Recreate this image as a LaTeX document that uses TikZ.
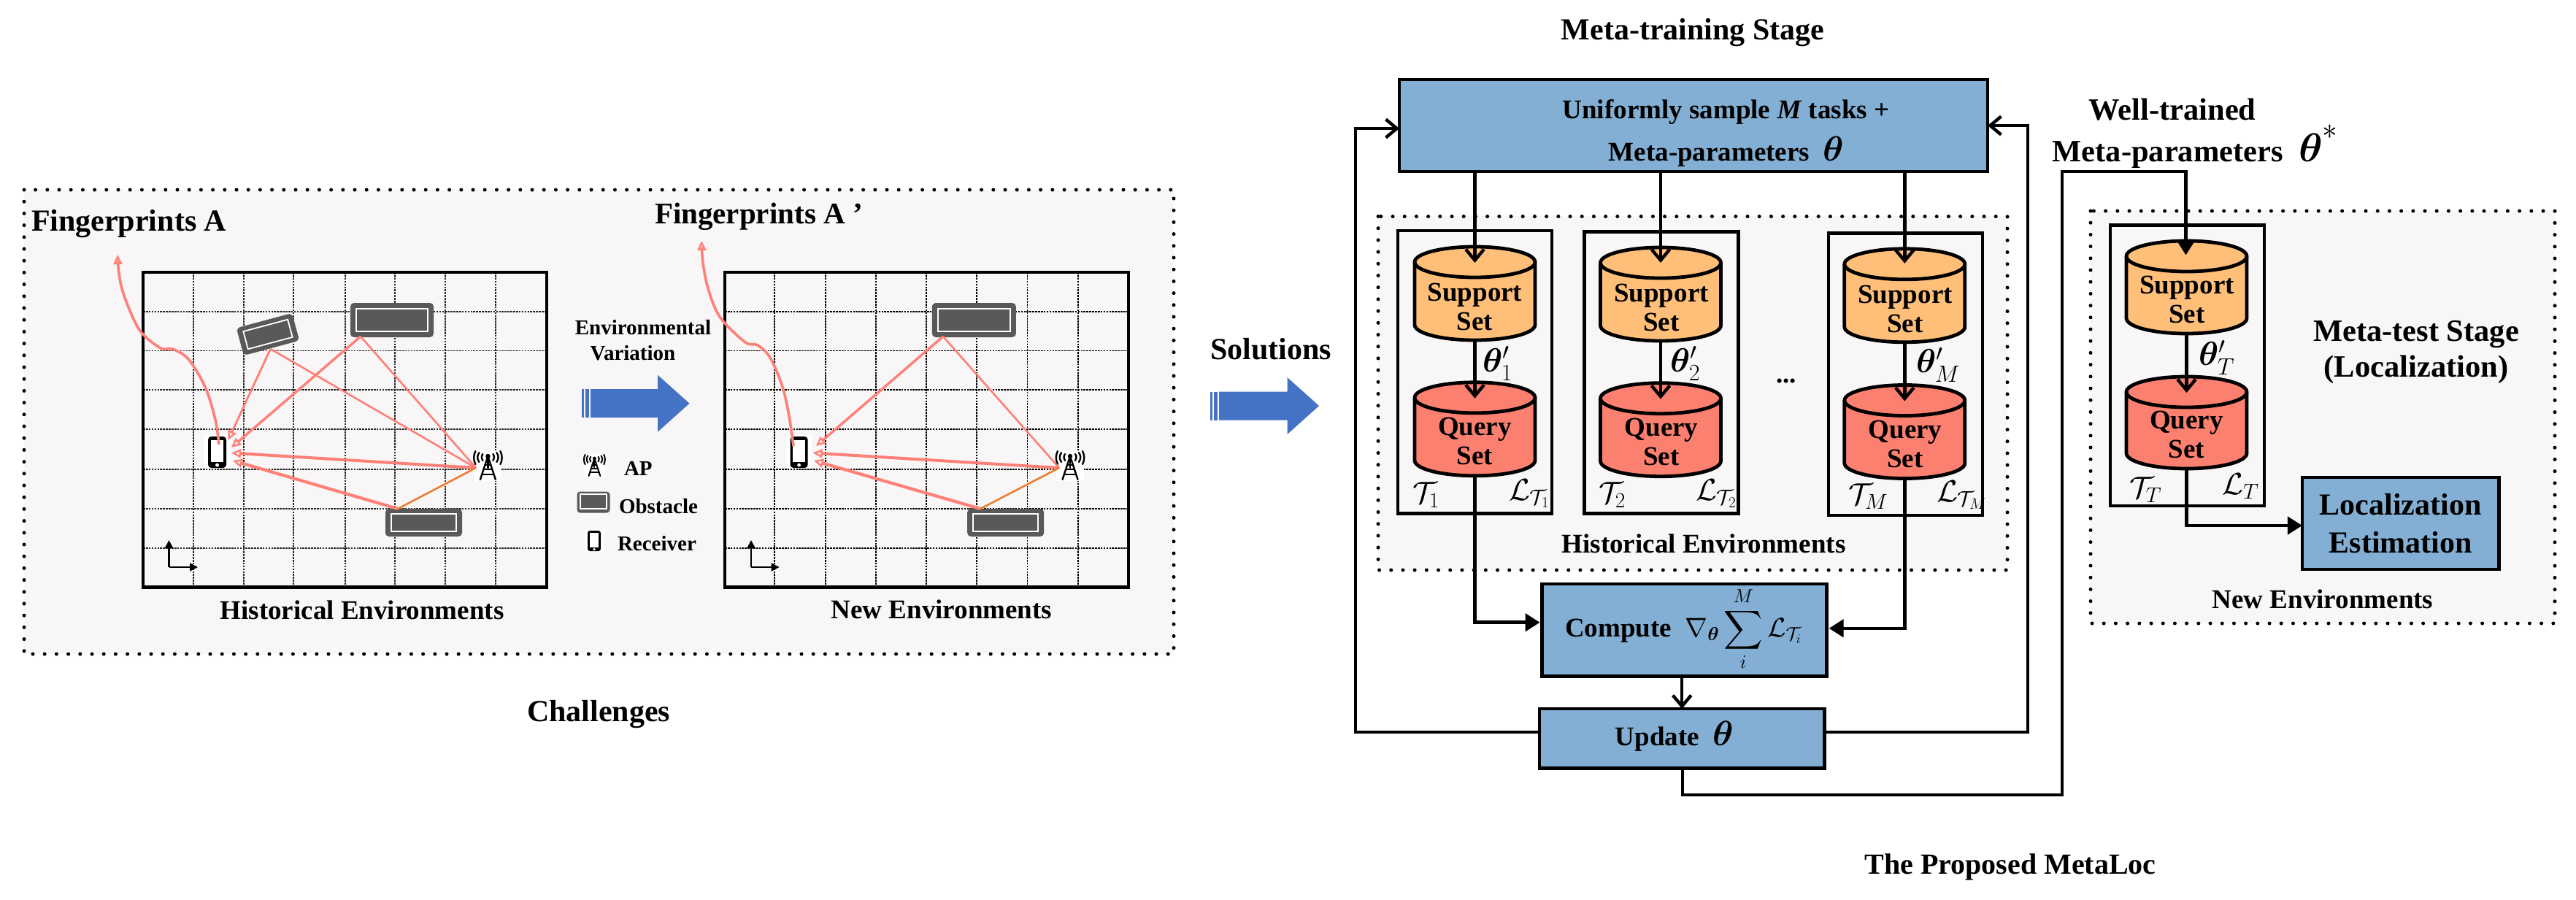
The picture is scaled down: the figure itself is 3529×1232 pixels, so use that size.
\documentclass[tikz,border=0pt]{standalone}
\usepackage{fix-cm}
\usepackage{amsmath,bm,graphicx}
\usepackage[no-math]{fontspec}
\setmainfont{Liberation Serif}
\DeclareFontFamily{OMX}{cmex}{}
\DeclareFontShape{OMX}{cmex}{m}{n}{<-> cmex10}{}
\usetikzlibrary{arrows.meta,calc}
\definecolor{panelbg}{HTML}{F8F6F7}
\definecolor{boxblue}{HTML}{82AFD3}
\definecolor{supcol}{HTML}{FFBF79}
\definecolor{qrycol}{HTML}{FC8070}
\definecolor{salmon}{HTML}{FF8077}
\definecolor{orangeline}{HTML}{ED7D31}
\definecolor{obdark}{HTML}{595959}
\definecolor{bigarrow}{HTML}{4472C4}
\newcommand{\bigth}{\scalebox{1.3}{$\bm{\theta}$}}
\tikzset{
  lbl/.style={inner sep=0pt,outer sep=0pt,align=center,font=\bfseries\fontsize{#1}{40}\selectfont},
  mth/.style={inner sep=0pt,outer sep=0pt,font=\fontsize{#1}{40}\selectfont},
  panel/.style={fill=panelbg,draw=none,inner sep=0pt,outer sep=0pt},
  dotline/.style={draw=black,line width=5pt,line cap=round,dash pattern=on 0pt off 16.2pt},
  pbox/.style={draw=black,line width=4.6pt,inner sep=0pt,outer sep=0pt,line join=miter},
  bluebox/.style={pbox,fill=boxblue,align=center,font=\bfseries\fontsize{37}{44}\selectfont},
  cylbase/.style={inner sep=0pt,outer sep=0pt,minimum width=165pt},
  cylline/.style={draw=black,line width=4.8pt,line join=round},
  flow/.style={draw=black,line width=4.4pt,-{Straight Barb[length=15pt,width=25pt,line width=4.4pt]}},
  flowfill/.style={draw=black,line width=4.6pt,-{Triangle[length=20pt,width=24pt]}},
  ray/.style={draw=salmon,line width=#1},
  rayin/.style={draw=salmon,line width=#1,-{Triangle[open,length=13pt,width=12pt,line width=2.4pt]}},
  gridleft/.style={draw=black!85,line width=1.2pt,dash pattern=on 2.6pt off 1.3pt},
  gridright/.style={draw=black,line width=1.7pt,dash pattern=on 2.6pt off 1.3pt},
  envframe/.style={draw=black,line width=4.5pt,inner sep=0pt,outer sep=0pt},
  obout/.style={draw=obdark,fill=obdark,line width=5pt,rounded corners=3pt,inner sep=0pt,outer sep=0pt},
  obin/.style={draw=white,fill=obdark,line width=1.8pt,inner sep=0pt,outer sep=0pt},
  axisarrow/.style={draw=black,line width=2.2pt,-{Triangle[length=11pt,width=11pt]}},
}
% cylinder: name, centre x, centre y, height, fill
\newcommand{\dbcyl}[5]{%
  \node[cylbase,minimum height=#4 pt] (#1) at (#2,#3) {};
  \path[fill=#5,cylline]
    (#2-82.5,#3-#4/2+21) .. controls (#2-82.5,#3-#4/2+9.4) and (#2-45.6,#3-#4/2) .. (#2,#3-#4/2)
    .. controls (#2+45.6,#3-#4/2) and (#2+82.5,#3-#4/2+9.4) .. (#2+82.5,#3-#4/2+21)
    -- (#2+82.5,#3+#4/2-21)
    .. controls (#2+82.5,#3+#4/2-9.4) and (#2+45.6,#3+#4/2) .. (#2,#3+#4/2)
    .. controls (#2-45.6,#3+#4/2) and (#2-82.5,#3+#4/2-9.4) .. (#2-82.5,#3+#4/2-21) -- cycle;
  \path[cylline]
    (#2-82.5,#3-#4/2+21) .. controls (#2-82.5,#3-#4/2+32.6) and (#2-45.6,#3-#4/2+42) .. (#2,#3-#4/2+42)
    .. controls (#2+45.6,#3-#4/2+42) and (#2+82.5,#3-#4/2+32.6) .. (#2+82.5,#3-#4/2+21);
}
% phone icon: name, centre x, centre y, half width, half height
\newcommand{\phoneicon}[5]{%
  \fill[white] (#2-1.45*#4,#3-1.1*#5) rectangle (#2+1.45*#4,#3+1.05*#5);
  \node[draw=none,fill=black,rounded corners=#4*0.35pt,inner sep=0pt,outer sep=0pt,
        minimum width=2*#4 pt,minimum height=2*#5 pt] (#1) at (#2,#3) {};
  \fill[white] (#2-0.68*#4,#3-0.78*#5) rectangle (#2+0.68*#4,#3+0.62*#5);
  \fill[white] (#2,#3+0.82*#5) circle[radius=0.2*#4 pt];
}
% AP icon: name, apex x, apex y, scale, line width
\newcommand{\apicon}[5]{%
  \begin{scope}[shift={(#2,#3)},scale=#4,line width=#5pt,draw=black,line cap=round]
    \fill[white] (-19,-8) rectangle (19,34);
    \coordinate (#1) at (0,0);
    \fill[black] (0,0) circle[radius=3.2pt];
    \draw (0,0) -- (-10.5,32);
    \draw (0,0) -- (10.5,32);
    \draw (0,0) -- (0,16);
    \draw (-4,12) -- (4,12);
    \draw (-5.8,18) -- (5.8,18);
    \draw (-8,25) -- (8,25);
    \draw (-12,-5) .. controls (-15,0) and (-15,3) .. (-12,8);
    \draw (-7,-3) .. controls (-9,0) and (-9,2) .. (-7,6);
    \draw (12,-5) .. controls (15,0) and (15,3) .. (12,8);
    \draw (7,-3) .. controls (9,0) and (9,2) .. (7,6);
    \draw (-17,-7) .. controls (-20,-1) and (-20,5) .. (-17,11);
    \draw (17,-7) .. controls (20,-1) and (20,5) .. (17,11);
  \end{scope}%
}
% big block arrow: tail x, tip x, centre y
\newcommand{\blockarrow}[3]{%
  \fill[bigarrow] (#1+12,#3-19.5) -- (#2-43.5,#3-19.5) -- (#2-43.5,#3-39) -- (#2,#3) --
     (#2-43.5,#3+39) -- (#2-43.5,#3+19.5) -- (#1+12,#3+19.5) -- cycle;
  \fill[bigarrow] (#1,#3-19.5) rectangle (#1+3,#3+19.5);
  \fill[bigarrow] (#1+5,#3-19.5) rectangle (#1+10,#3+19.5);
}
\begin{document}
\begin{tikzpicture}[x=1pt,y=-1pt]
\useasboundingbox (0,0) rectangle (3529,1232);
\fill[white] (0,0) rectangle (3529,1232);

% ---------- panels ----------
\node[panel,minimum width=1575pt,minimum height=636pt] (leftpanel) at (820.5,578) {};
\draw[dotline] (33,260) rectangle (1608,896);
\node[panel,minimum width=862pt,minimum height=484.5pt] (histpanel) at (2319,538.7) {};
\draw[dotline] (1888,296.5) rectangle (2750,781);
\node[panel,minimum width=636pt,minimum height=565pt] (newpanel) at (3182,571.5) {};
\draw[dotline] (2864,289) rectangle (3500,854);

% ---------- left environment ----------
\foreach \gx in {265,334,402,473,541,610,679} \draw[gridleft] (\gx,373) -- (\gx,804);
\foreach \gy in {427,480.5,534,588,643,697,751} \draw[gridleft] (196,\gy) -- (749,\gy);
\node[envframe,minimum width=553pt,minimum height=431.5pt] (envA) at (472.5,588.7) {};

\node[obout,minimum width=109pt,minimum height=42pt] (obA1) at (537,438.5) {};
\node[obin,minimum width=98pt,minimum height=31pt] (obA1i) at (537,438.5) {};
\node[obout,rotate=15,minimum width=74pt,minimum height=34pt] (obA2) at (367,458) {};
\node[obin,rotate=15,minimum width=63pt,minimum height=25pt] (obA2i) at (367,458) {};
\node[obout,minimum width=100pt,minimum height=33pt] (obA3) at (580.5,716) {};
\node[obin,minimum width=89pt,minimum height=24pt] (obA3i) at (580.5,716) {};

\phoneicon{phA}{297.5}{619.5}{12.5}{21.5}
\apicon{apA}{668.4}{625}{1}{2.4}

\coordinate (rA) at (652,641);
\coordinate (aT) at (494,461);
\coordinate (aR) at (370.5,478);
\coordinate (aB) at (545,697);
\coordinate (aP1) at (317,613);
\coordinate (aP2) at (312.5,603);
\coordinate (aP3) at (317,620.5);
\coordinate (aP4) at (319,631);
\coordinate (aC) at (300,609);
\coordinate (fpA) at (161,349);
\draw[ray=2.6pt] (rA) -- (aT);
\draw[rayin=3.4pt] (aT) -- (aP1);
\draw[ray=2.6pt] (rA) -- (aR);
\draw[rayin=2.8pt] (aR) -- (aP2);
\draw[rayin=4pt] (rA) -- (aP3);
\draw[draw=orangeline,line width=2.6pt] (rA) -- (aB);
\draw[rayin=4.2pt] (aB) -- (aP4);
\draw[rayin=3.6pt] plot[smooth,tension=0.55] coordinates {(aC) (295,575) (281,530) (258,492) (236,478) (220,477) (191,452) (170,405) (163,375) (fpA)};

\coordinate (axA) at (231.5,777);
\coordinate (axAy) at (231.5,740);
\coordinate (axAx) at (271,777);
\draw[axisarrow] (axA) -- (axAy);
\draw[axisarrow] (axA) -- (axAx);

\node[lbl=42,anchor=west] (fingA) at (43,306.5) {Fingerprints A};
\node[lbl=37] (histA) at (496,836) {Historical Environments};

% ---------- legend ----------
\node[lbl=29] (envvar1) at (881,449) {Environmental};
\node[lbl=29] (envvar2) at (867,484) {Variation};
\blockarrow{797}{944.5}{552.7}
\apicon{apLeg}{814.4}{628}{0.75}{2}
\node[lbl=29,anchor=west] (legAP) at (855,642) {AP};
\node[obout,draw=obdark,line width=3pt,minimum width=42pt,minimum height=26pt] (obLeg) at (813,688) {};
\node[obin,minimum width=36pt,minimum height=20pt] (obLegi) at (813,687) {};
\node[lbl=29,anchor=west] (legOb) at (848,693.5) {Obstacle};
\phoneicon{phLeg}{814}{741}{9}{14}
\node[lbl=29,anchor=west] (legRx) at (846,745) {Receiver};

% ---------- right environment ----------
\foreach \gx in {1061,1131,1200,1269,1338,1407.5,1477} \draw[gridright] (\gx,373) -- (\gx,804);
\foreach \gy in {427,480.5,534,588,643,697,751} \draw[gridright] (993,\gy) -- (1546,\gy);
\node[envframe,minimum width=553pt,minimum height=431.5pt] (envB) at (1269.5,588.7) {};

\node[obout,minimum width=110pt,minimum height=42pt] (obB1) at (1334.3,438.5) {};
\node[obin,minimum width=99pt,minimum height=31pt] (obB1i) at (1334.3,438.5) {};
\node[obout,minimum width=100pt,minimum height=33pt] (obB3) at (1377.7,716) {};
\node[obin,minimum width=89pt,minimum height=24pt] (obB3i) at (1377.7,716) {};

\phoneicon{phB}{1094.6}{619.5}{12}{21.5}
\apicon{apB}{1466}{625}{1}{2.4}

\coordinate (rB) at (1451,641);
\coordinate (bT) at (1292,461);
\coordinate (bB) at (1343,697);
\coordinate (bP1) at (1118,611);
\coordinate (bP3) at (1113.5,620.5);
\coordinate (bP4) at (1115,631);
\coordinate (bC) at (1087,611);
\coordinate (fpB) at (961,330);
\draw[ray=2.6pt] (rB) -- (bT);
\draw[rayin=3.4pt] (bT) -- (bP1);
\draw[rayin=4pt] (rB) -- (bP3);
\draw[draw=orangeline,line width=2.6pt] (rB) -- (bB);
\draw[rayin=4.2pt] (bB) -- (bP4);
\draw[rayin=3.6pt] plot[smooth,tension=0.55] coordinates {(bC) (1081,570) (1072,530) (1055,490) (1038,473) (1020.5,468.6) (986,434) (970,395) (963,360) (fpB)};

\coordinate (axB) at (1029,777);
\coordinate (axBy) at (1029,740);
\coordinate (axBx) at (1067.6,777);
\draw[axisarrow] (axB) -- (axBy);
\draw[axisarrow] (axB) -- (axBx);

\node[lbl=41,anchor=west] (fingB) at (897,297) {Fingerprints A ’};
\node[lbl=37] (histB) at (1290,835) {New Environments};
\node[lbl=42] (chal) at (820,979) {Challenges};

% ---------- solutions ----------
\node[lbl=42] (sol) at (1741,478) {Solutions};
\blockarrow{1658}{1807}{556}

% ---------- meta-training ----------
\node[lbl=42] (mtrain) at (2319,45) {Meta-training Stage};
\node[pbox,fill=boxblue,minimum width=806pt,minimum height=126pt] (top) at (2320,172) {};
\node[lbl=37] (topt1) at (2364.5,153.4) {Uniformly sample \textit{M} tasks +};
\node[lbl=37] (topt2) at (2365,207.6) {Meta-parameters\ \ \bigth};

\node[pbox,fill=none,minimum width=211pt,minimum height=387.6pt] (task1) at (2020.5,509.8) {};
\node[pbox,fill=none,minimum width=211pt,minimum height=386pt] (task2) at (2276,510.5) {};
\node[pbox,fill=none,minimum width=211pt,minimum height=386.5pt] (task3) at (2610.5,512.7) {};

\dbcyl{sup1}{2020.5}{402}{128}{supcol}
\dbcyl{sup2}{2275}{403}{128}{supcol}
\dbcyl{sup3}{2609.3}{404.8}{128}{supcol}
\dbcyl{qry1}{2020.5}{587.8}{128}{qrycol}
\dbcyl{qry2}{2275}{588.7}{128}{qrycol}
\dbcyl{qry3}{2609.3}{591.5}{128}{qrycol}

\node[lbl=37] (sup1t) at (2020.5,420) {Support\\Set};
\node[lbl=37] (sup2t) at (2276,421) {Support\\Set};
\node[lbl=37] (sup3t) at (2610,423) {Support\\Set};
\node[lbl=37] (qry1t) at (2020.5,604) {Query\\Set};
\node[lbl=37] (qry2t) at (2276,605) {Query\\Set};
\node[lbl=37] (qry3t) at (2610,608) {Query\\Set};

\draw[flow] (top.south -| sup1) -- ($(sup1.center)+(0,-42)$);
\draw[flow] (top.south -| sup2) -- ($(sup2.center)+(0,-43)$);
\draw[flow] (top.south -| sup3) -- ($(sup3.center)+(0,-44)$);
\draw[flow] (sup1.south) -- ($(qry1.center)+(0,-42)$);
\draw[flow] (sup2.south) -- ($(qry2.center)+(0,-42)$);
\draw[flow] (sup3.south) -- ($(qry3.center)+(0,-42)$);

\node[mth=46,anchor=west] (th1) at (2031,498) {$\bm{\theta}'_1$};
\node[mth=46,anchor=west] (th2) at (2288,498) {$\bm{\theta}'_2$};
\node[mth=46,anchor=west] (thM) at (2625,500) {$\bm{\theta}'_M$};
\node[lbl=37] (dots) at (2447,522) {...};

\node[mth=42,anchor=west] (T1) at (1935,678) {$\mathcal{T}_1$};
\node[mth=42,anchor=west] (L1) at (2067,676) {$\mathcal{L}_{\mathcal{T}_1}$};
\node[mth=42,anchor=west] (T2) at (2190,678) {$\mathcal{T}_2$};
\node[mth=42,anchor=west] (L2) at (2323,676) {$\mathcal{L}_{\mathcal{T}_2}$};
\node[mth=42,anchor=west] (TM) at (2532,680) {$\mathcal{T}_M$};
\node[mth=42,anchor=west] (LM) at (2653,678) {$\mathcal{L}_{\mathcal{T}_M}$};

\node[lbl=37] (histC) at (2334,745) {Historical Environments};

\node[bluebox,minimum width=390pt,minimum height=126.5pt] (comp) at (2307.6,863.2) {};
\node[lbl=37] (compt) at (2306,862)
  {Compute\ \ $\nabla_{\bm{\theta}}\displaystyle\sum_{i}^{M}\mathcal{L}_{\mathcal{T}_i}$};
\node[bluebox,minimum width=390.5pt,minimum height=81.6pt] (upd) at (2304.2,1011.8) {};
\node[lbl=37] (updt) at (2294,1009) {Update\ \ \bigth};

\coordinate (cIn1) at ($(comp.west)+(-3,-10.5)$);
\coordinate (cIn3) at ($(comp.east)+(3,-2.4)$);
\draw[flowfill] (qry1.south) |- (cIn1);
\draw[flowfill] (qry3.south) |- (cIn3);
\draw[flow] (comp.south -| upd) -- (upd.north);

\coordinate (fbLs) at ($(upd.west)+(0,-8.8)$);
\coordinate (fbLc) at (1857,1003);
\coordinate (fbLe) at ($(top.west)+(0,4)$);
\draw[flow] (fbLs) -- (fbLc) |- (fbLe);
\coordinate (fbRs) at ($(upd.east)+(0,-8.8)$);
\coordinate (fbRc) at (2777.7,1003);
\coordinate (fbRe) at ($(top.east)+(0,0)$);
\draw[flow] (fbRs) -- (fbRc) |- (fbRe);

% ---------- meta-test ----------
\node[lbl=42.5] (wt1) at (2976,150) {Well-trained};
\node[lbl=42.5] (wt2) at (3007.5,201) {Meta-parameters\ \ \bigth\raisebox{10pt}{\scalebox{1.4}{$^{*}$}}};

\node[pbox,fill=none,minimum width=211pt,minimum height=384.4pt] (taskT) at (2996.5,500.8) {};
\dbcyl{supT}{2995.5}{393.5}{127}{supcol}
\dbcyl{qryT}{2995.5}{579}{126}{qrycol}
\node[lbl=37] (supTt) at (2996,410.5) {Support\\Set};
\node[lbl=37] (qryTt) at (2995.5,595) {Query\\Set};

\coordinate (w1) at (2305,1089);
\coordinate (w2) at (2825,1089);
\coordinate (w3) at (2825,235);
\coordinate (w4) at (2994.5,235);
\draw[flowfill] (upd.south -| w1) -- (w1) -- (w2) -- (w3) -- (w4) -- ($(supT.center)+(-1,-44)$);
\draw[flow] (supT.south) -- ($(qryT.center)+(0,-41)$);

\node[mth=46,anchor=west] (thT) at (3012,490) {$\bm{\theta}'_T$};
\node[mth=42,anchor=west] (TT) at (2917,671) {$\mathcal{T}_T$};
\node[mth=42,anchor=west] (LT) at (3044,666) {$\mathcal{L}_T$};

\node[bluebox,minimum width=269.5pt,minimum height=126pt,font=\bfseries\fontsize{42}{52}\selectfont] (loc) at (3288.7,717) {Localization\\Estimation};
\coordinate (locIn) at (loc.west |- 0,720);
\draw[flowfill] (qryT.south) |- (locIn);

\node[lbl=42.5] (mtest1) at (3310,458) {Meta-test Stage};
\node[lbl=42.5] (mtest2) at (3310,506.6) {(Localization)};
\node[lbl=37] (histN) at (3182,821) {New Environments};

\node[lbl=40] (prop) at (2754,1188) {The Proposed MetaLoc};
\end{tikzpicture}
\end{document}
